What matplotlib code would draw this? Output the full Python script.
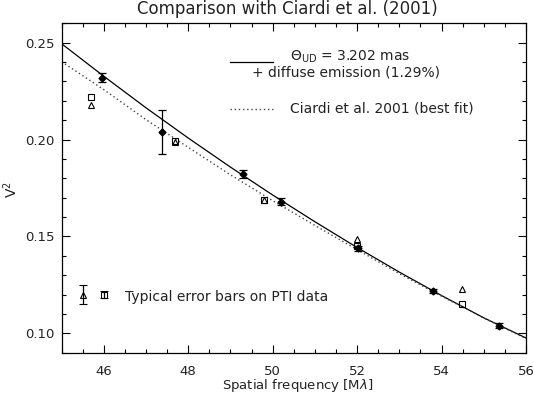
import numpy as np
import matplotlib
matplotlib.use('Agg')
import matplotlib.pyplot as plt
from matplotlib.ticker import MultipleLocator, FormatStrFormatter

# this work (filled diamonds)
x_obs = [45.97, 47.37, 49.31, 50.19, 52.02, 53.79, 55.37]
v2_obs = [0.2319, 0.2038, 0.1822, 0.1680, 0.1439, 0.1219, 0.1040]
err_obs = [0.0023, 0.0115, 0.0020, 0.0017, 0.0014, 0.0012, 0.0013]

# PTI data (Ciardi et al.)
x_pti = [45.69, 47.68, 49.79, 52.00, 54.48]
v2_pti_sq = [0.2221, 0.1990, 0.1690, 0.1453, 0.1150]
v2_pti_tri = [0.2179, 0.1986, 0.1687, 0.1489, 0.1229]

# model curves
x_mod = [45, 46, 47, 48, 49, 50, 51, 52, 53, 54, 55, 56]
v2_ud = [0.2495, 0.2327, 0.2164, 0.2008, 0.1858, 0.1714, 0.1576, 0.1443,
         0.1316, 0.1195, 0.1080, 0.0976]
v2_ciardi = [0.2402, 0.2258, 0.2103, 0.1960, 0.1818, 0.1685, 0.1557, 0.1432,
             0.1308, 0.1192, 0.1079, 0.0973]

# typical error bars
typ_x = [45.5, 46.0]
typ_y = [0.120, 0.120]
typ_err = [0.005, 0.002]

txt = '#222222'

fig = plt.figure(figsize=(5.34, 3.96), dpi=100)
ax = fig.add_axes([61.5 / 534, 1 - 352.7 / 396, (526 - 61.5) / 534, (352.7 - 23.3) / 396])

ax.plot(x_mod, v2_ud, color='black', lw=0.9)
ax.plot(x_mod, v2_ciardi, color='#444444', lw=1.0, ls=(0, (1, 2)))

ax.errorbar(x_obs, v2_obs, yerr=err_obs, fmt='D', color='black', ms=3.5,
            elinewidth=0.9, capsize=3, capthick=0.9)
ax.plot(x_pti, v2_pti_sq, 's', mfc='none', mec='black', ms=5, mew=0.8)
ax.plot(x_pti, v2_pti_tri, '^', mfc='none', mec='black', ms=4.5, mew=0.8)

ax.errorbar(typ_x[0], typ_y[0], yerr=typ_err[0], fmt='^', mfc='none', mec='black',
            color='black', ms=4.5, mew=0.8, elinewidth=0.9, capsize=3, capthick=0.9)
ax.errorbar(typ_x[1], typ_y[1], yerr=typ_err[1], fmt='s', mfc='none', mec='black',
            color='black', ms=4.5, mew=0.8, elinewidth=0.9, capsize=3, capthick=0.9)
ax.text(46.5, 0.1166, 'Typical error bars on PTI data', fontsize=10, va='baseline', color=txt)

# legend drawn by hand
ax.plot([49.0, 50.0], [0.2402, 0.2402], color='black', lw=0.9)
ax.text(50.41, 0.2408, r'$\Theta_{\rm UD}$ = 3.202 mas', fontsize=10, va='baseline', color=txt)
ax.text(49.5, 0.2326, '+ diffuse emission (1.29%)', fontsize=10, va='baseline', color=txt)
ax.plot([49.0, 50.0], [0.2158, 0.2158], color='#444444', lw=1.0, ls=(0, (1, 2)))
ax.text(50.41, 0.2140, 'Ciardi et al. 2001 (best fit)', fontsize=10, va='baseline', color=txt)

ax.set_xlim(45, 56)
ax.set_ylim(0.09, 0.26)
ax.xaxis.set_major_locator(MultipleLocator(2))
ax.xaxis.set_minor_locator(MultipleLocator(0.5))
ax.yaxis.set_major_locator(MultipleLocator(0.05))
ax.yaxis.set_minor_locator(MultipleLocator(0.01))
ax.yaxis.set_major_formatter(FormatStrFormatter('%.2f'))
ax.tick_params(which='both', direction='in', top=True, right=True, width=0.8,
               labelsize=9.5, labelcolor=txt)
ax.tick_params(which='major', length=6)
ax.tick_params(which='minor', length=3)
ax.tick_params(axis='x', pad=9)
ax.tick_params(axis='y', pad=5)
for s in ax.spines.values():
    s.set_linewidth(0.9)

ax.set_xlabel(r'Spatial frequency [M$\lambda$]', fontsize=9.5, va='center', color=txt)
ax.xaxis.set_label_coords(0.5 + (298 - 293.7) / 464.5, -(386 - 352.7) / 329.4)
ax.set_ylabel(r'V$^2$', fontsize=10, va='center', color=txt)
ax.yaxis.set_label_coords(-(61.5 - 11) / 464.5, (352.7 - 190) / 329.4)
fig.text(287 / 534, 1 - 9 / 396, 'Comparison with Ciardi et al. (2001)',
         fontsize=12, ha='center', va='center', color=txt)

fig.savefig('out.png', dpi=100)
